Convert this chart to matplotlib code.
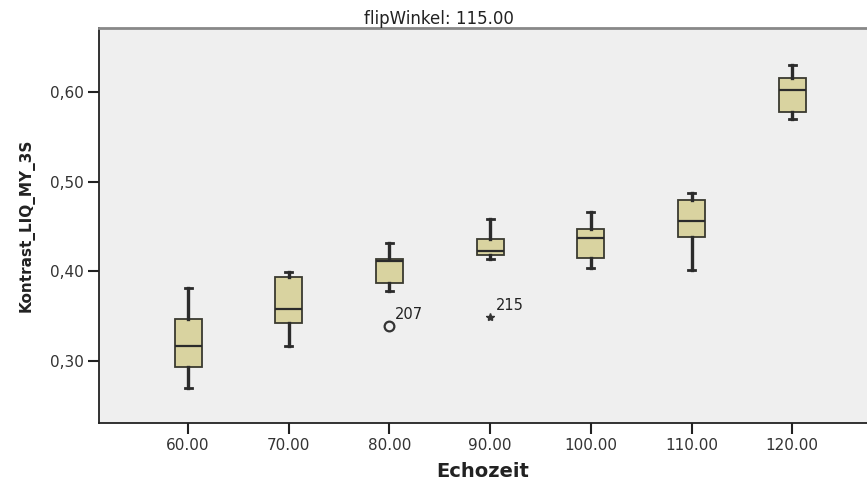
import matplotlib
matplotlib.use("Agg")
import matplotlib.pyplot as plt

plt.rcParams['font.family'] = ['DejaVu Sans']

# Boxplot-Kennwerte pro Echozeit
echozeit = ['60.00', '70.00', '80.00', '90.00', '100.00', '110.00', '120.00']
whisker_lo = [0.270, 0.317, 0.378, 0.414, 0.404, 0.402, 0.570]
q1 = [0.293, 0.343, 0.387, 0.418, 0.415, 0.438, 0.578]
median = [0.317, 0.358, 0.411, 0.423, 0.437, 0.456, 0.602]
q3 = [0.347, 0.394, 0.414, 0.436, 0.447, 0.479, 0.615]
whisker_hi = [0.382, 0.399, 0.432, 0.458, 0.466, 0.487, 0.630]

# Ausreisser: (Gruppe, Wert, Fallnummer, Marker)
outlier_group = [2, 3]
outlier_value = [0.339, 0.349]
outlier_label = ['207', '215']
outlier_marker = ['o', '*']

stats = []
for i in range(len(echozeit)):
    stats.append({'whislo': whisker_lo[i], 'q1': q1[i], 'med': median[i],
                  'q3': q3[i], 'whishi': whisker_hi[i], 'fliers': []})

fig = plt.figure(figsize=(8.67, 4.83), dpi=100)
ax = fig.add_axes([0.1142, 0.124, 0.8858, 0.818])
ax.set_facecolor('#efefef')

edge = '#2b2b2b'
ax.bxp(stats, positions=range(len(echozeit)), widths=0.27, capwidths=0.07,
       patch_artist=True,
       boxprops=dict(facecolor='#d9d3a0', edgecolor='#3a3a30', linewidth=1.3),
       medianprops=dict(color=edge, linewidth=1.6),
       whiskerprops=dict(color=edge, linewidth=2.4),
       capprops=dict(color=edge, linewidth=2.0))

for g, v, lab, m in zip(outlier_group, outlier_value, outlier_label, outlier_marker):
    if m == 'o':
        ax.plot(g, v, marker='o', markersize=7, markerfacecolor='none',
                markeredgecolor='#333333', markeredgewidth=1.6, linestyle='none')
    else:
        ax.plot(g, v, marker='*', markersize=6, color='#333333', linestyle='none')
    ax.annotate(lab, (g, v), xytext=(4, 5), textcoords='offset points',
                fontsize=10.5, color='#222222')

ax.set_xlim(-0.885, 6.743)
ax.set_ylim(0.2309, 0.6712)

yt = [0.30, 0.40, 0.50, 0.60]
ax.set_yticks(yt)
ax.set_yticklabels([f'{t:.2f}'.replace('.', ',') for t in yt])
ax.set_xticks(range(len(echozeit)))
ax.set_xticklabels(echozeit)
ax.tick_params(axis='both', direction='out', length=8, width=1.5, pad=3,
               color='#222222', labelsize=11, labelcolor='#333333')

for s in ['left', 'bottom']:
    ax.spines[s].set_color('#222222')
    ax.spines[s].set_linewidth(1.3)
ax.spines['right'].set_visible(False)
ax.spines['top'].set_color('#888888')
ax.spines['top'].set_linewidth(2.0)

ax.set_xlabel('Echozeit', fontsize=14, fontweight='bold', color='#222222', labelpad=6)
ax.set_ylabel('Kontrast_LIQ_MY_3S', fontsize=11, fontweight='bold', color='#222222', labelpad=11)
ax.set_title('flipWinkel: 115.00', fontsize=12, color='#222222', pad=3)
ax.title.set_x(0.443)

fig.savefig('out.png', dpi=100, facecolor='white')
